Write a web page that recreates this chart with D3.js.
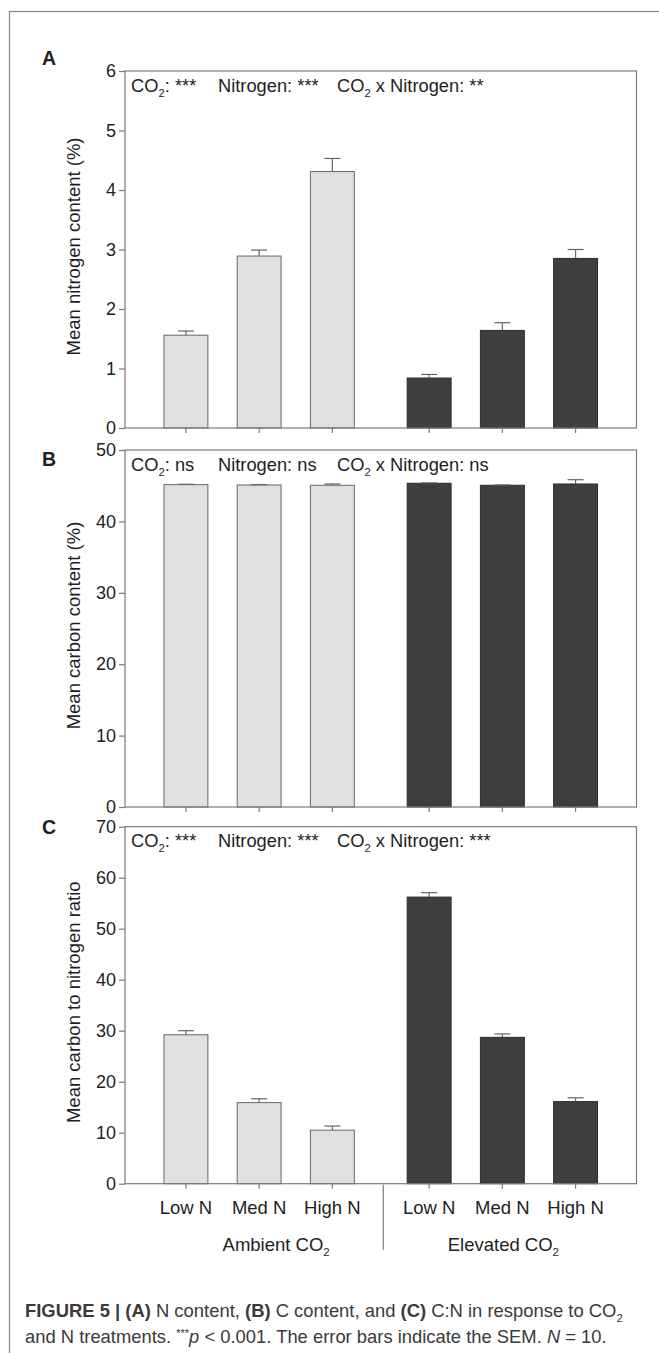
<!DOCTYPE html>
<html>
<head>
<meta charset="utf-8">
<script src="https://cdn.jsdelivr.net/npm/d3@7"></script>
<style>
  body { margin: 0; background: #fff; }
  svg { display: block; font-family: "Liberation Sans", Arial, Helvetica, sans-serif; }
</style>
</head>
<body>
<script>
// ---- data ----
var co2Groups = ["Ambient CO2", "Elevated CO2"];
var nLevels = ["Low N", "Med N", "High N"];

// order: ambient low/med/high, elevated low/med/high
var nContent    = [1.56, 2.89, 4.31, 0.84, 1.64, 2.85];
var nContentSem = [0.07, 0.10, 0.22, 0.06, 0.13, 0.15];
var cContent    = [45.15, 45.10, 45.06, 45.34, 45.06, 45.24];
var cContentSem = [0.05, 0.06, 0.18, 0.05, 0.05, 0.60];
var cnRatio     = [29.2, 15.9, 10.5, 56.2, 28.7, 16.1];
var cnRatioSem  = [0.8, 0.75, 0.8, 0.87, 0.66, 0.74];

var ticksA = [0, 1, 2, 3, 4, 5, 6];
var ticksB = [0, 10, 20, 30, 40, 50];
var ticksC = [0, 10, 20, 30, 40, 50, 60, 70];

var effects = ["CO2: ", "Nitrogen: ", "CO2 x Nitrogen: "];
var sigA = ["***", "***", "**"];
var sigB = ["ns", "ns", "ns"];
var sigC = ["***", "***", "***"];

// ---- layout ----
var W = 659, H = 1353;
var plotL = 125, plotR = 636.5, plotH = 357;
var axisCol = "#7a7a7a", textCol = "#1e1e1e";

var svg = d3.select("body").append("svg")
  .attr("width", W).attr("height", H);

// outer frame (runs off the right and bottom edges)
svg.append("rect")
  .attr("x", 9.5).attr("y", 11.5)
  .attr("width", W + 20).attr("height", H + 20)
  .attr("fill", "none").attr("stroke", "#8a8a8a").attr("stroke-width", 1.2);

var x0 = d3.scaleBand().domain(co2Groups).range([plotL, plotR])
  .paddingInner(0.097).paddingOuter(0.1);
var x1 = d3.scaleBand().domain(nLevels).range([0, x0.bandwidth()])
  .paddingInner(0.4).paddingOuter(0.2);

var cells = [];
co2Groups.forEach(function(g, gi) {
  nLevels.forEach(function(n, ni) {
    cells.push({ group: g, level: n, gi: gi, i: gi * nLevels.length + ni });
  });
});
function barX(d) { return x0(d.group) + x1(d.level); }
function barC(d) { return barX(d) + x1.bandwidth() / 2; }

// writes a string into a text node, turning "CO2" into CO with subscript 2
function chem(sel, str) {
  var parts = str.split("CO2");
  parts.forEach(function(p, k) {
    if (k > 0) {
      sel.append("tspan").text("CO");
      sel.append("tspan").attr("font-size", "0.62em").attr("dy", 5).text("2");
      if (p !== "") sel.append("tspan").attr("dy", -5).text(p);
    } else if (p !== "") {
      sel.append("tspan").text(p);
    }
  });
}

function drawPanel(o) {
  var top = o.top;
  var y = d3.scaleLinear().domain(o.domain).range([top + plotH, top]);
  var g = svg.append("g");

  // bars
  g.selectAll("rect.bar").data(cells).join("rect")
    .attr("class", "bar")
    .attr("x", barX)
    .attr("width", x1.bandwidth())
    .attr("y", function(d) { return y(o.values[d.i]); })
    .attr("height", function(d) { return y(0) - y(o.values[d.i]); })
    .attr("fill", function(d) { return d.gi === 0 ? "#e0e0df" : "#3e3e3e"; })
    .attr("stroke", function(d) { return d.gi === 0 ? "#666" : "#2b2b2b"; })
    .attr("stroke-width", 1);

  // error bars (upper only)
  var eb = g.selectAll("g.err").data(cells).join("g").attr("class", "err")
    .attr("stroke", "#666").attr("stroke-width", 1.2);
  eb.append("line")
    .attr("x1", barC).attr("x2", barC)
    .attr("y1", function(d) { return y(o.values[d.i]); })
    .attr("y2", function(d) { return y(o.values[d.i] + o.sem[d.i]); });
  eb.append("line")
    .attr("x1", function(d) { return barC(d) - 8; })
    .attr("x2", function(d) { return barC(d) + 8; })
    .attr("y1", function(d) { return y(o.values[d.i] + o.sem[d.i]); })
    .attr("y2", function(d) { return y(o.values[d.i] + o.sem[d.i]); });

  // plot box
  g.append("rect")
    .attr("x", plotL).attr("y", top)
    .attr("width", plotR - plotL).attr("height", plotH)
    .attr("fill", "none").attr("stroke", axisCol).attr("stroke-width", 1.2);

  // y axis
  var ax = g.append("g").attr("transform", "translate(" + plotL + ",0)")
    .call(d3.axisLeft(y).tickValues(o.ticks).tickFormat(d3.format("d"))
      .tickSize(6).tickPadding(3));
  ax.select(".domain").remove();
  ax.attr("font-family", null).attr("font-size", 18);
  ax.selectAll("line").attr("stroke", axisCol).attr("stroke-width", 1.2);
  ax.selectAll("text").attr("fill", textCol);

  // x ticks
  g.selectAll("line.xt").data(cells).join("line").attr("class", "xt")
    .attr("x1", barC).attr("x2", barC)
    .attr("y1", y(0)).attr("y2", y(0) + 5)
    .attr("stroke", axisCol).attr("stroke-width", 1.2);

  // y label
  g.append("text")
    .attr("transform", "translate(80," + (top + plotH / 2 - 3) + ") rotate(-90)")
    .attr("text-anchor", "middle")
    .attr("font-size", 18.5).attr("fill", textCol)
    .text(o.label);

  // panel letter
  g.append("text")
    .attr("x", 42).attr("y", o.letterY)
    .attr("font-size", 19.5).attr("font-weight", "bold").attr("fill", textCol)
    .text(o.letter);

  // significance line
  var sx = [131, 218, 337];
  effects.forEach(function(e, k) {
    var t = g.append("text")
      .attr("x", sx[k]).attr("y", top + 20.5)
      .attr("font-size", 18.3).attr("fill", textCol);
    chem(t, e);
    t.append("tspan").text(o.sig[k]);
  });

  return y;
}

drawPanel({ top: 71, domain: [0, 6], ticks: ticksA, values: nContent, sem: nContentSem,
  label: "Mean nitrogen content (%)", letter: "A", letterY: 64.5, sig: sigA });
drawPanel({ top: 450, domain: [0, 50], ticks: ticksB, values: cContent, sem: cContentSem,
  label: "Mean carbon content (%)", letter: "B", letterY: 466, sig: sigB });
var yC = drawPanel({ top: 826.7, domain: [0, 70], ticks: ticksC, values: cnRatio, sem: cnRatioSem,
  label: "Mean carbon to nitrogen ratio", letter: "C", letterY: 834, sig: sigC });

// category labels under the last panel
var base = yC(0);
svg.selectAll("text.lev").data(cells).join("text").attr("class", "lev")
  .attr("x", barC).attr("y", base + 30)
  .attr("text-anchor", "middle")
  .attr("font-size", 18.5).attr("fill", textCol)
  .text(function(d) { return d.level; });

var groupShift = [17, 1];
co2Groups.forEach(function(grp, gi) {
  var t = svg.append("text")
    .attr("x", x0(grp) + x0.bandwidth() / 2 + groupShift[gi])
    .attr("y", base + 67.5)
    .attr("text-anchor", "middle")
    .attr("font-size", 18.5).attr("fill", textCol);
  chem(t, grp);
});

// divider between the CO2 groups
var divX = x0(co2Groups[1]) - x0.step() * x0.paddingInner() / 2 + 2.5;
svg.append("line")
  .attr("x1", divX).attr("x2", divX)
  .attr("y1", base + 1).attr("y2", base + 66)
  .attr("stroke", axisCol).attr("stroke-width", 1.2);

// caption, squeezed horizontally to the width of the condensed original face
function squeeze(t, x, y, target) {
  var w = t.node().getComputedTextLength();
  var s = target / w;
  t.attr("transform", "translate(" + x + "," + y + ") scale(" + s + ",1)");
}

var cap1 = svg.append("text").attr("font-size", 19).attr("fill", "#3a3a3a");
cap1.append("tspan").attr("font-weight", "bold").text("FIGURE 5 | ");
cap1.append("tspan").attr("font-weight", "bold").text("(A)");
cap1.append("tspan").text(" N content, ");
cap1.append("tspan").attr("font-weight", "bold").text("(B)");
cap1.append("tspan").text(" C content, and ");
cap1.append("tspan").attr("font-weight", "bold").text("(C)");
chem(cap1, " C:N in response to CO2");
squeeze(cap1, 25, 1316.7, 598);

var cap2 = svg.append("text").attr("font-size", 19).attr("fill", "#3a3a3a");
cap2.append("tspan").text("and N treatments. ");
cap2.append("tspan").attr("font-size", "0.6em").attr("dy", -6).text("***");
cap2.append("tspan").attr("font-style", "italic").attr("dy", 6).text("p");
cap2.append("tspan").text(" < 0.001. The error bars indicate the SEM. ");
cap2.append("tspan").attr("font-style", "italic").text("N");
cap2.append("tspan").text(" = 10.");
squeeze(cap2, 25, 1342.7, 582);
</script>
</body>
</html>
